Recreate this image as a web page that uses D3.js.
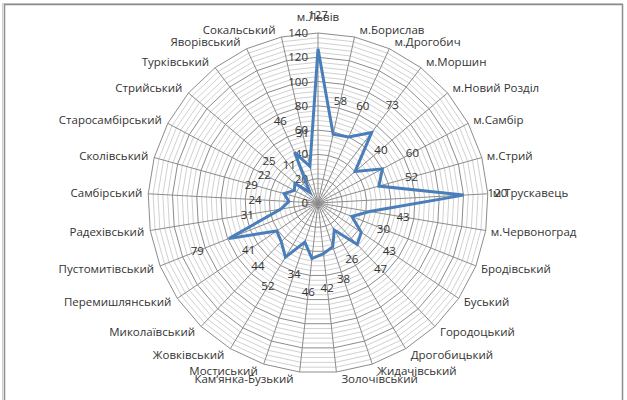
<!DOCTYPE html>
<html>
<head>
<meta charset="utf-8">
<script src="https://cdn.jsdelivr.net/npm/d3@7"></script>
<style>
    body { margin: 0; background: #fff; }
    svg text { font-family: "Open Sans", sans-serif; fill: #333; }
</style>
</head>
<body>
<div id="chart"></div>
<script>
/*
 * Categories, clockwise from the top.
 */
var categories = [
    'м.Львів', 'м.Борислав', 'м.Дрогобич', 'м.Моршин', 'м.Новий Розділ',
    'м.Самбір', 'м.Стрий', 'м.Трускавець', 'м.Червоноград', 'Бродівський',
    'Буський', 'Городоцький', 'Дрогобицький', 'Жидачівський', 'Золочівський',
    'Кам\u02BCянка-Бузький', 'Мостиський', 'Жовківський', 'Миколаївський',
    'Перемишлянський', 'Пустомитівський', 'Радехівський', 'Самбірський',
    'Сколівський', 'Старосамбірський', 'Стрийський', 'Турківський',
    'Яворівський', 'Сокальський'
];
/*
 * Series values.
 */
var values = [
    127, 58, 60, 73, 40, 60, 52, 120, 43, 30, 43, 47, 26, 38, 42,
    46, 34, 52, 44, 41, 79, 31, 24, 29, 22, 25, 11, 46, 31
];
/*
 * Axis tick labels.
 */
var majorTicks = [0, 20, 40, 60, 80, 100, 120, 140];
var minorTicks = d3.range(0, 141, 4).filter(d => d % 20 !== 0);

var width = 627, height = 400;
var cx = 318, cy = 203, outer = 170;
var fontSize = 11.5;

var svg = d3.select('#chart').append('svg')
    .attr('width', width)
    .attr('height', height);

/*
 * Frame.
 */
svg.append('rect')
    .attr('x', 2.5).attr('y', 3.5)
    .attr('width', 620).attr('height', 420)
    .attr('fill', 'none')
    .attr('stroke', '#d0d0d0')
    .attr('stroke-width', 1);
svg.append('rect')
    .attr('x', 4.5).attr('y', 4.5)
    .attr('width', 618).attr('height', 420)
    .attr('fill', 'none')
    .attr('stroke', '#8c8c8c')
    .attr('stroke-width', 1.5);

var r = d3.scaleLinear().domain([0, 140]).range([0, outer]);
var angle = d3.scaleLinear()
    .domain([0, categories.length])
    .range([0, 2 * Math.PI]);

var g = svg.append('g').attr('transform', 'translate(' + cx + ',' + cy + ')');

/*
 * Polygon ring generator.
 */
var ring = d3.lineRadial()
    .angle((d, i) => angle(i))
    .radius(d => r(d))
    .curve(d3.curveLinearClosed);

/*
 * Minor grid.
 */
g.selectAll('path.minor')
    .data(minorTicks)
    .join('path')
    .attr('class', 'minor')
    .attr('d', t => ring(categories.map(() => t)))
    .attr('fill', 'none')
    .attr('stroke', '#c4c4c4')
    .attr('stroke-width', 0.8);

/*
 * Major grid.
 */
g.selectAll('path.major')
    .data(majorTicks.slice(1))
    .join('path')
    .attr('class', 'major')
    .attr('d', t => ring(categories.map(() => t)))
    .attr('fill', 'none')
    .attr('stroke', '#8c8c8c')
    .attr('stroke-width', 1);

/*
 * Spokes.
 */
g.selectAll('line.spoke')
    .data(categories)
    .join('line')
    .attr('class', 'spoke')
    .attr('x1', 0).attr('y1', 0)
    .attr('x2', (d, i) => r(140) * Math.sin(angle(i)))
    .attr('y2', (d, i) => -r(140) * Math.cos(angle(i)))
    .attr('stroke', '#8c8c8c')
    .attr('stroke-width', 1);

/*
 * Axis tick labels along the top spoke.
 */
g.selectAll('text.tick')
    .data(majorTicks)
    .join('text')
    .attr('class', 'tick')
    .attr('x', -10)
    .attr('y', d => -r(d))
    .attr('dy', '0.35em')
    .attr('text-anchor', 'end')
    .attr('font-size', fontSize)
    .text(d => d);

/*
 * Data series.
 */
g.append('path')
    .attr('d', ring(values))
    .attr('fill', 'none')
    .attr('stroke', '#4a7ebb')
    .attr('stroke-width', 3)
    .attr('stroke-linejoin', 'miter');

/*
 * Value labels.
 */
g.selectAll('text.value')
    .data(values)
    .join('text')
    .attr('class', 'value')
    .attr('x', (d, i) => (r(d) + 34) * Math.sin(angle(i)))
    .attr('y', (d, i) => -(r(d) + 34) * Math.cos(angle(i)))
    .attr('dy', '0.35em')
    .attr('text-anchor', 'middle')
    .attr('font-size', fontSize)
    .text(d => d);

/*
 * Category labels.
 */
g.selectAll('text.cat')
    .data(categories)
    .join('text')
    .attr('class', 'cat')
    .each(function(d, i) {
        var a = angle(i), s = Math.sin(a), c = Math.cos(a);
        var x = r(140) * s, y = -r(140) * c;
        var anchor = Math.abs(s) < 0.05 ? 'middle' : (s > 0 ? 'start' : 'end');
        var dx = anchor === 'middle' ? 0 : (s > 0 ? 5 : -6);
        var dy = anchor === 'middle' ? -16 * c : -7 * c;
        d3.select(this)
            .attr('x', x + dx)
            .attr('y', y + dy)
            .attr('dy', '0.35em')
            .attr('text-anchor', anchor);
    })
    .attr('font-size', fontSize)
    .text(d => d);
</script>
</body>
</html>
